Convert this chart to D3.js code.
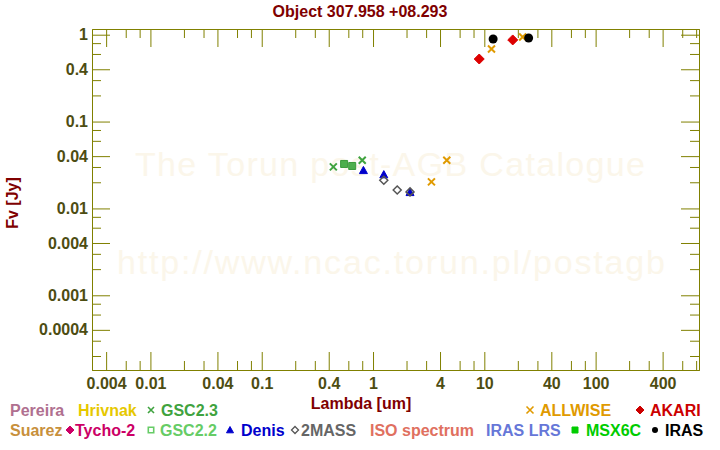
<!DOCTYPE html>
<html><head><meta charset="utf-8">
<script src="https://cdn.jsdelivr.net/npm/d3@7"></script>
<style>
body{margin:0;background:#fff}
svg{display:block;font-family:"Liberation Sans",Arial,sans-serif}
</style></head><body>
<svg id="c" width="720" height="450"></svg>
<script>
// ---- data ----
const gsc23Lam = [0.44, 0.80];
const gsc23Flux = [0.0301, 0.0358];
const gsc22Lam = [0.55, 0.65];
const gsc22Flux = [0.0325, 0.0308];
const denisLam = [0.82, 1.25, 2.15];
const denisFlux = [0.0274, 0.0245, 0.0153];
const twomassLam = [1.25, 1.65, 2.15];
const twomassFlux = [0.0211, 0.0163, 0.0155];
const allwiseLam = [3.35, 4.6, 11.6, 22.1];
const allwiseFlux = [0.0202, 0.0358, 0.685, 0.94];
const akariLam = [9, 18];
const akariFlux = [0.525, 0.87];
const irasLam = [12, 25];
const irasFlux = [0.893, 0.916];

const xMajorTicks = [0.004, 0.01, 0.04, 0.1, 0.4, 1, 4, 10, 40, 100, 400];
const xMinorTicks = [0.003, 0.006, 0.008, 0.02, 0.03, 0.06, 0.08, 0.2, 0.3, 0.6, 0.8, 2, 3, 6, 8, 20, 30, 60, 80, 200, 300, 600, 800];
const yMajorTicks = [1, 0.4, 0.1, 0.04, 0.01, 0.004, 0.001, 0.0004];
const yMinorTicks = [0.8, 0.6, 0.3, 0.2, 0.08, 0.06, 0.03, 0.02, 0.008, 0.006, 0.003, 0.002, 0.0008, 0.0006, 0.0003, 0.0002];
const xTickLabels = ["0.004","0.01","0.04","0.1","0.4","1","4","10","40","100","400"];
const yTickLabels = ["1","0.4","0.1","0.04","0.01","0.004","0.001","0.0004"];

// ---- layout ----
const svg = d3.select("#c");
const L = 92, R = 699, T = 29, B = 370;
const x = d3.scaleLog().domain([0.002986, 849]).range([L, R]);
const y = d3.scaleLog().domain([1.38e-4, 1.163]).range([B, T]);
const axisCol = "#808000", labCol = "#4d4d12";

// watermark
svg.append("text").attr("x", 390).attr("y", 176).attr("text-anchor", "middle")
  .attr("font-size", 34).attr("fill", "#fbf6ea").attr("textLength", 510)
  .text("The Torun post-AGB Catalogue");
svg.append("text").attr("x", 391).attr("y", 274).attr("text-anchor", "middle")
  .attr("font-size", 34).attr("fill", "#fbf6ea").attr("textLength", 548)
  .text("http://www.ncac.torun.pl/postagb");

function styleAxis(g){
  g.selectAll("path.domain").attr("stroke", axisCol);
  g.selectAll(".tick line").attr("stroke", axisCol);
  g.selectAll(".tick text").attr("fill", labCol).attr("font-size", 16).attr("font-weight", "bold")
   .attr("font-family", "'Liberation Sans',Arial,sans-serif");
}
const lab = (arr, labels) => d => labels[arr.indexOf(d)];

// bottom
svg.append("g").attr("transform", `translate(0,${B})`)
  .call(d3.axisBottom(x).tickValues(xMinorTicks.filter(v=>x(v)>L+1)).tickSize(-9).tickSizeOuter(0).tickFormat(""))
  .call(styleAxis);
svg.append("g").attr("transform", `translate(0,${B})`)
  .call(d3.axisBottom(x).tickValues(xMajorTicks).tickSize(-18).tickSizeOuter(0).tickPadding(8).tickFormat(lab(xMajorTicks, xTickLabels)))
  .call(styleAxis);
// top
svg.append("g").attr("transform", `translate(0,${T})`)
  .call(d3.axisTop(x).tickValues(xMinorTicks.filter(v=>x(v)>L+1)).tickSize(-9).tickSizeOuter(0).tickFormat(""))
  .call(styleAxis);
svg.append("g").attr("transform", `translate(0,${T})`)
  .call(d3.axisTop(x).tickValues(xMajorTicks).tickSize(-18).tickSizeOuter(0).tickFormat(""))
  .call(styleAxis);
// left
svg.append("g").attr("transform", `translate(${L},0)`)
  .call(d3.axisLeft(y).tickValues(yMinorTicks).tickSize(-9).tickSizeOuter(0).tickFormat(""))
  .call(styleAxis);
svg.append("g").attr("transform", `translate(${L},0)`)
  .call(d3.axisLeft(y).tickValues(yMajorTicks).tickSize(-18).tickSizeOuter(0).tickPadding(4).tickFormat(lab(yMajorTicks, yTickLabels)))
  .call(styleAxis);
// right
svg.append("g").attr("transform", `translate(${R},0)`)
  .call(d3.axisRight(y).tickValues(yMinorTicks).tickSize(-9).tickSizeOuter(0).tickFormat(""))
  .call(styleAxis);
svg.append("g").attr("transform", `translate(${R},0)`)
  .call(d3.axisRight(y).tickValues(yMajorTicks).tickSize(-18).tickSizeOuter(0).tickFormat(""))
  .call(styleAxis);

// titles
svg.append("text").attr("x", 360).attr("y", 17).attr("text-anchor", "middle")
  .attr("font-size", 16).attr("font-weight", "bold").attr("fill", "#800000").text("Object 307.958 +08.293");
svg.append("text").attr("x", 361).attr("y", 409).attr("text-anchor", "middle")
  .attr("font-size", 16).attr("font-weight", "bold").attr("fill", "#800000").text("Lambda [um]");
svg.append("text").attr("transform", "translate(18,203) rotate(-90)").attr("text-anchor", "middle")
  .attr("font-size", 16).attr("font-weight", "bold").attr("fill", "#800000").text("Fv [Jy]");

// ---- markers ----
function crossPath(s){ return `M${-s},${-s}L${s},${s}M${-s},${s}L${s},${-s}`; }
function diamondPath(s){ return `M0,${-s}L${s},0L0,${s}L${-s},0Z`; }
function squarePath(s){ return `M${-s},${-s}H${s}V${s}H${-s}Z`; }
function trianglePath(s){ return `M0,${-s}L${s},${s*0.8}L${-s},${s*0.8}Z`; }

const plot = svg.append("g");
function drawSeries(lams, fluxes, path, fill, stroke, sw){
  plot.append("g").selectAll("path").data(lams.map((l,i)=>[l, fluxes[i]])).join("path")
    .attr("transform", d=>`translate(${x(d[0])},${y(d[1])})`)
    .attr("d", path).attr("fill", fill).attr("stroke", stroke).attr("stroke-width", sw);
}
drawSeries(gsc23Lam, gsc23Flux, crossPath(3.5), "none", "#3fa33f", 2);
drawSeries(gsc22Lam, gsc22Flux, squarePath(3.5), "#4caf4c", "#3a9a3a", 1);
drawSeries(denisLam, denisFlux, trianglePath(4), "#0000cc", "#0000cc", 1);
drawSeries(twomassLam, twomassFlux, diamondPath(4), "none", "#555555", 1.5);
drawSeries(allwiseLam, allwiseFlux, crossPath(3.5), "none", "#e09a00", 2);
drawSeries(akariLam, akariFlux, diamondPath(5), "#dd0000", "#dd0000", 1);
plot.append("g").selectAll("circle").data(irasLam.map((l,i)=>[l, irasFlux[i]])).join("circle")
  .attr("cx", d=>x(d[0])).attr("cy", d=>y(d[1])).attr("r", 4.5).attr("fill", "#000");

// ---- legend ----
const lg = svg.append("g").attr("font-size", 16).attr("font-weight", "bold");
function ltext(xp, yp, txt, col){ lg.append("text").attr("x", xp).attr("y", yp).attr("fill", col).text(txt); }
function lmark(xp, yp, path, fill, stroke, sw){
  lg.append("path").attr("transform", `translate(${xp},${yp})`).attr("d", path)
    .attr("fill", fill).attr("stroke", stroke).attr("stroke-width", sw);
}
const r1 = 416, r2 = 436;
ltext(10, r1, "Pereira", "#b07090");
ltext(78, r1, "Hrivnak", "#e6c800");
lmark(151, r1-6, crossPath(3), "none", "#3fa33f", 1.6);
ltext(161, r1, "GSC2.3", "#3fa33f");
lmark(530, r1-6, crossPath(3.5), "none", "#e09a00", 1.6);
ltext(540, r1, "ALLWISE", "#e09a00");
lmark(640, r1-6, diamondPath(4), "#cc0000", "#cc0000", 1);
ltext(650, r1, "AKARI", "#cc0000");

ltext(10, r2, "Suarez", "#c8903c");
lmark(70, r2-6, diamondPath(4), "#cc0066", "#cc0066", 1);
ltext(75, r2, "Tycho-2", "#cc0066");
lmark(151, r2-6, squarePath(2.7), "none", "#66cc66", 1.6);
ltext(160, r2, "GSC2.2", "#66cc66");
lmark(230, r2-6, trianglePath(3.5), "#0000cc", "#0000cc", 1);
ltext(241, r2, "Denis", "#0000cc");
lmark(295, r2-6, diamondPath(3.5), "none", "#555555", 1.3);
ltext(301, r2, "2MASS", "#666666");
ltext(370, r2, "ISO spectrum", "#e07060");
ltext(486, r2, "IRAS LRS", "#6677d8");
lmark(575, r2-6, squarePath(3), "#00cc00", "#00cc00", 1);
ltext(586, r2, "MSX6C", "#00cc00");
lg.append("circle").attr("cx", 655).attr("cy", r2-6).attr("r", 3).attr("fill", "#000");
ltext(665, r2, "IRAS", "#000000");
</script></body></html>
